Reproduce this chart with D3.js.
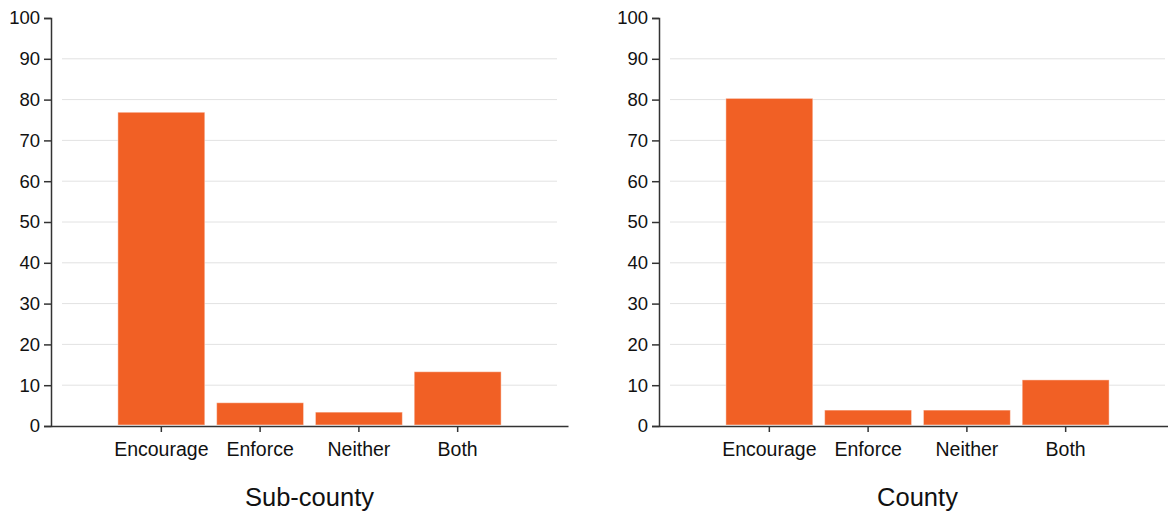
<!DOCTYPE html>
<html><head><meta charset="utf-8">
<script src="https://cdn.jsdelivr.net/npm/d3@7"></script>
<style>
body{margin:0;background:#fff;}
svg{display:block;font-family:"Liberation Sans",Arial,sans-serif;}
</style></head>
<body><svg id="c" width="1168" height="512"></svg>
<script>
const categories = ["Encourage","Enforce","Neither","Both"];
const subCountyValues = [76.9, 5.7, 3.4, 13.3];
const countyValues = [80.3, 3.9, 3.9, 11.3];
const panelTitles = ["Sub-county","County"];
const yTicks = [0,10,20,30,40,50,60,70,80,90,100];

const svg = d3.select("#c");
const panels = [
  {title: panelTitles[0], values: subCountyValues, x0: 51},
  {title: panelTitles[1], values: countyValues, x0: 659}
];
const W = 517, plotTop = 18, plotBottom = 426;
const color = "#f16025";

const y = d3.scaleLinear().domain([0,100]).range([plotBottom, plotTop]);

panels.forEach(p => {
  const g = svg.append("g");
  const x = d3.scaleBand().domain(categories).range([p.x0, p.x0 + W]).paddingInner(0.12).paddingOuter(0.677);

  // gridlines
  g.selectAll("line.grid").data(yTicks.filter(t => t > 0 && t < 100)).join("line")
    .attr("class","grid")
    .attr("x1", p.x0 + 11).attr("x2", p.x0 + W - 11)
    .attr("y1", d => y(d)).attr("y2", d => y(d))
    .attr("stroke", "#e2e2e2").attr("stroke-width", 1);

  // bars
  g.selectAll("rect").data(p.values).join("rect")
    .attr("x", (d,i) => x(categories[i]))
    .attr("width", x.bandwidth())
    .attr("y", d => y(d))
    .attr("height", d => y(0) - y(d) - 1)
    .attr("fill", color)
    .attr("stroke", "rgba(255,255,255,0.45)")
    .attr("stroke-width", 1);

  // y axis
  const ya = g.append("g").attr("transform", `translate(${p.x0},0)`)
    .call(d3.axisLeft(y).tickValues(yTicks).tickSize(7).tickPadding(4));
  ya.select(".domain").attr("stroke", "#333").attr("stroke-width", 1.5);
  ya.selectAll(".tick line").attr("stroke", "#333").attr("stroke-width", 1.5);
  ya.selectAll("text").attr("font-size", 18.5).attr("fill", "#111").style("font-family", '"Liberation Sans",Arial,sans-serif');

  // x axis
  const xa = g.append("g").attr("transform", `translate(0,${plotBottom})`)
    .call(d3.axisBottom(x).tickSize(6).tickSizeOuter(0).tickPadding(10));
  xa.select(".domain").attr("stroke", "#333").attr("stroke-width", 1.5);
  xa.selectAll(".tick line").attr("stroke", "#333").attr("stroke-width", 1.5);
  xa.selectAll("text").attr("font-size", 19.5).attr("fill", "#111").style("font-family", '"Liberation Sans",Arial,sans-serif');

  // title
  g.append("text").attr("x", p.x0 + W/2).attr("y", 506)
    .attr("text-anchor", "middle").attr("font-size", 25.5).attr("fill", "#111")
    .text(p.title);
});
</script></body></html>
